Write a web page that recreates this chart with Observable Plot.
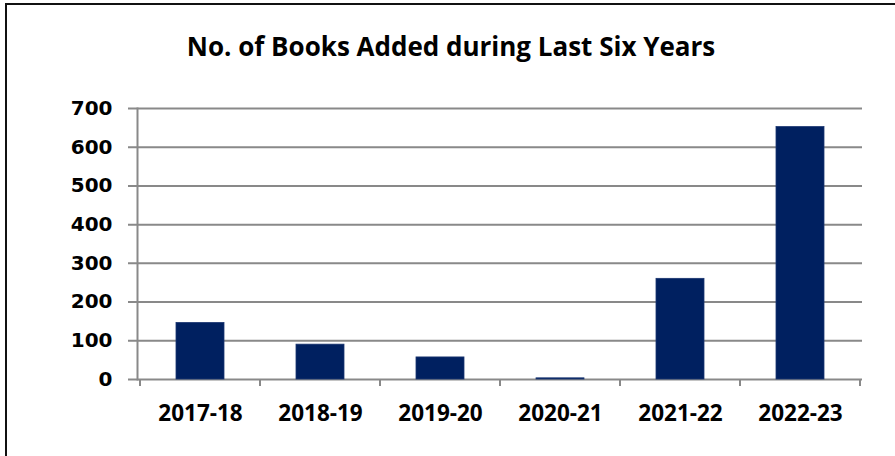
<!DOCTYPE html>
<html>
<head>
<meta charset="utf-8">
<script src="https://cdn.jsdelivr.net/npm/d3@7"></script>
<script src="https://cdn.jsdelivr.net/npm/@observablehq/plot@0.6"></script>
<style>
  html, body { margin: 0; padding: 0; background: #fff; overflow: hidden; }
  #wrap { position: relative; width: 895px; height: 456px; overflow: hidden; }
  #frame { position: absolute; left: 5px; top: 3px; width: 920px; height: 480px; border: 2.5px solid #111; box-sizing: border-box; }
  #title { position: absolute; left: 0; top: 28px; width: 902px; text-align: center; line-height: normal;
    font-family: "Open Sans", sans-serif; font-weight: 700; font-size: 26px; color: #000; }
  #chart { position: absolute; left: 0; top: 0; }
</style>
</head>
<body>
<div id="wrap">
  <div id="frame"></div>
  <div id="chart"></div>
  <div id="title">No. of Books Added during Last Six Years</div>
</div>
<script>
const title = "No. of Books Added during Last Six Years";
const years = ["2017-18", "2018-19", "2019-20", "2020-21", "2021-22", "2022-23"];
const books = [146, 90, 57, 3, 260, 652];
const yTicks = [0, 100, 200, 300, 400, 500, 600, 700];

const data = years.map((y, i) => ({year: y, books: books[i]}));
const gridColor = "#898989";

// Tick marks at category boundaries, computed from the x band scale
function boundaryTicks(index, scales, values, dimensions) {
  const x = scales.x, y = scales.y;
  const step = x(years[1]) - x(years[0]);
  const bw = typeof x.bandwidth === "function" ? x.bandwidth() : (x.bandwidth ?? step * 0.4);
  const off = (step - bw) / 2;
  const xs = years.map(c => x(c) - off);
  xs.push(x(years[years.length - 1]) + bw + off);
  const y0 = y(0);
  const g = d3.create("svg:g");
  g.selectAll("line").data(xs).join("line")
    .attr("x1", d => d).attr("x2", d => d)
    .attr("y1", y0).attr("y2", y0 + 7)
    .attr("stroke", gridColor).attr("stroke-width", 2);
  return g.node();
}

const chart = Plot.plot({
  width: 895,
  height: 456,
  marginLeft: 137,
  marginRight: 33,
  marginTop: 108,
  marginBottom: 77,
  style: {background: "transparent", overflow: "visible"},
  x: {domain: years, paddingInner: 0.6, paddingOuter: 0.3, label: null},
  y: {domain: [0, 700], label: null},
  marks: [
    Plot.ruleY(yTicks, {stroke: gridColor, strokeWidth: 2, insetLeft: -9}),
    Plot.frame({anchor: "left", stroke: gridColor, strokeWidth: 2}),
    Plot.barY(data, {x: "year", y: "books", fill: "#002060", stroke: "#1a3570", strokeWidth: 0.8}),
    boundaryTicks,
    Plot.axisY(yTicks, {tickSize: 0, tickPadding: 25, fontFamily: "DejaVu Sans", fontWeight: "bold", fontSize: 20, fill: "#000"}),
    Plot.axisX({tickSize: 0, tickPadding: 26, fontFamily: "Open Sans", fontWeight: "bold", fontSize: 22.5, fill: "#000"})
  ]
});
document.getElementById("chart").appendChild(chart);
</script>
</body>
</html>
